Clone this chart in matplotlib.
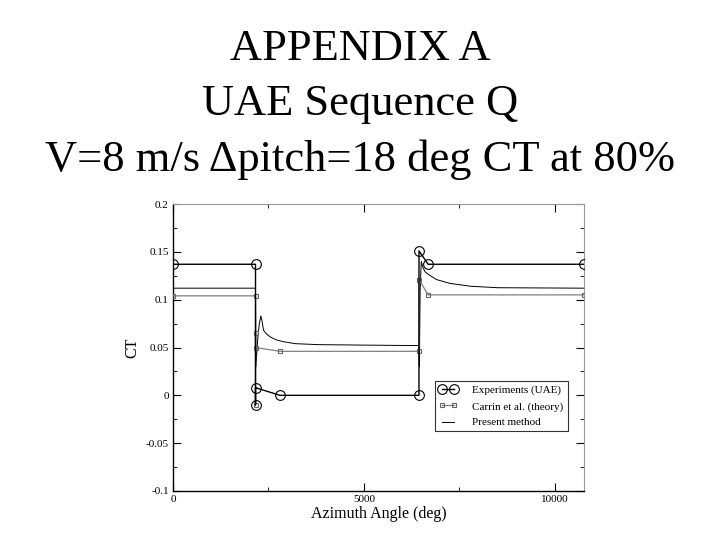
import numpy as np
import matplotlib.pyplot as plt
from matplotlib.ticker import MultipleLocator

# Experiments (UAE)
exp_x = [0, 2160, 2160, 2160, 2800, 6440, 6440, 6680, 10760]
exp_y = [0.137, 0.137, -0.01, 0.008, 0.0, 0.0, 0.151, 0.137, 0.137]

# Carrin et al. (theory)
car_x = [0, 2160, 2160, 2160, 2160, 2800, 6440, 6440, 6680, 10760]
car_y = [0.104, 0.104, -0.01, 0.065, 0.05, 0.046, 0.046, 0.121, 0.105, 0.105]

# Present method
pm_x = [0, 2160, 2170, 2220, 2260, 2300, 2330, 2370, 2450, 2550, 2700, 2900,
        3200, 3800, 5000, 6440, 6450, 6470, 6500, 6540, 6600, 6700, 6900,
        7250, 7800, 8500, 10760]
pm_y = [0.112, 0.112, 0.03, 0.06, 0.075, 0.083, 0.078, 0.068, 0.064, 0.061,
        0.058, 0.056, 0.054, 0.053, 0.0525, 0.052, 0.03, 0.11, 0.14, 0.134,
        0.129, 0.126, 0.121, 0.117, 0.114, 0.1125, 0.112]

title_lines = ["APPENDIX A", "UAE Sequence Q", "V=8 m/s \u0394pitch=18 deg CT at 80%"]

serif = ['Liberation Serif', 'DejaVu Serif']

fig = plt.figure(figsize=(7.2, 5.4), dpi=100)
for i, line in enumerate(title_lines):
    fig.text(0.5, 1 - (60 + 55.5 * i) / 540, line, ha='center', va='baseline',
             fontsize=32, family=serif)

ax = fig.add_axes([173 / 720, 1 - 491 / 540, (584 - 173) / 720, (491 - 204) / 540])

ax.plot(pm_x, pm_y, color='black', lw=0.7, label='Present method', zorder=2)
ax.plot(car_x, car_y, color='#808080', lw=0.9, marker='s', ms=3.5, mfc='none',
        mec='#666666', mew=0.8, label='Carrin et al. (theory)', zorder=3)
ax.plot(exp_x, exp_y, color='black', lw=1.0, marker='o', ms=7, mfc='none',
        mec='black', mew=0.8, label='Experiments (UAE)', zorder=4)

ax.set_xlim(0, 10760)
ax.set_ylim(-0.1, 0.2)
ax.set_xticks([0, 5000, 10000])
ax.set_xticklabels(['0', '5000', '10000'])
ax.set_yticks([-0.1, -0.05, 0, 0.05, 0.1, 0.15, 0.2])
ax.set_yticklabels(['-0.1', '-0.05', '0', '0.05', '0.1', '0.15', '0.2'])
ax.xaxis.set_minor_locator(MultipleLocator(2500))
ax.yaxis.set_minor_locator(MultipleLocator(0.025))
ax.tick_params(which='both', direction='in', top=True, right=True,
               labelsize=8, pad=3)
ax.tick_params(which='major', length=6, width=0.8)
ax.tick_params(which='minor', length=3, width=0.6)
for lab in ax.get_xticklabels() + ax.get_yticklabels():
    lab.set_family(serif)

for side in ['top', 'right']:
    ax.spines[side].set_color('#999999')
    ax.spines[side].set_linewidth(0.8)
for side in ['left', 'bottom']:
    ax.spines[side].set_linewidth(1.0)

ax.set_xlabel('Azimuth Angle (deg)', fontsize=11.5, family=serif, labelpad=1)
ax.set_ylabel('CT', fontsize=11.5, family=serif, labelpad=4)

handles, labels = ax.get_legend_handles_labels()
leg = ax.legend(handles[::-1], labels[::-1], loc='lower right',
                bbox_to_anchor=(0.96, 0.208), prop={'family': serif, 'size': 8},
                frameon=True, fancybox=False, edgecolor='black', numpoints=2,
                handlelength=1.6, handletextpad=1.4, borderpad=0.35,
                labelspacing=0.55, borderaxespad=0)
leg.get_frame().set_linewidth(0.8)

fig.savefig('out.png', dpi=100)
